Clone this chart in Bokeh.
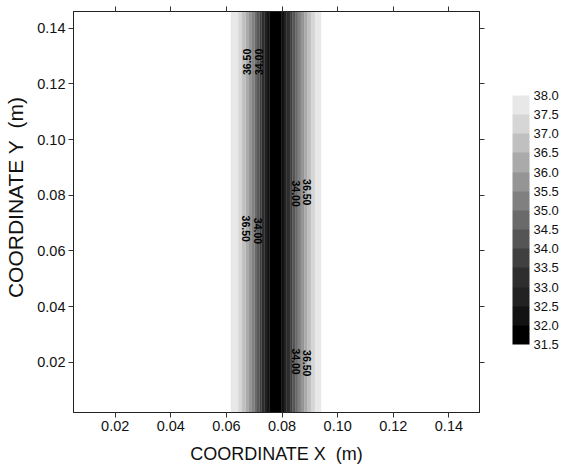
import math
from bokeh.plotting import figure
from bokeh.models import (LinearAxis, ColorBar, LinearColorMapper, FixedTicker,
                          PrintfTickFormatter, Range1d, ColumnDataSource)
from bokeh.core.properties import value
from bokeh.embed import file_html
from bokeh.resources import INLINE

# ---- data ----
levels = [31.5, 32.0, 32.5, 33.0, 33.5, 34.0, 34.5, 35.0, 35.5, 36.0, 36.5, 37.0, 37.5, 38.0]
band_colors = ["#000000", "#121212", "#222222", "#2e2e2e", "#404040", "#555555", "#6a6a6a",
               "#808080", "#959595", "#aaaaaa", "#c0c0c0", "#d6d6d6", "#e8e8e8"]
# x (m) where the field crosses levels 32.0 ... 38.0, left and right of the minimum
left_cross = [0.0756, 0.0746, 0.0736, 0.0727, 0.0719, 0.0710, 0.0701, 0.0692, 0.0681,
              0.0669, 0.0656, 0.0642, 0.0616]
right_cross = [0.0799, 0.0807, 0.0817, 0.0829, 0.0837, 0.0847, 0.0857, 0.0868, 0.0880,
               0.0892, 0.0904, 0.0919, 0.0940]
label_x = [0.0674, 0.0717, 0.0849, 0.0889, 0.0670, 0.0713, 0.0849, 0.0891]
label_y = [0.1279, 0.1279, 0.0806, 0.0811, 0.0680, 0.0672, 0.0203, 0.0197]
label_text = ["36.50", "34.00", "34.00", "36.50", "36.50", "34.00", "34.00", "36.50"]
label_up = [True, True, False, False, False, False, False, False]

x_ticks = [0.02, 0.04, 0.06, 0.08, 0.10, 0.12, 0.14]
y_ticks = [0.02, 0.04, 0.06, 0.08, 0.10, 0.12, 0.14]
x_lim = (0.005, 0.151)
y_lim = (0.002, 0.146)
x_title = "COORDINATE X\u00a0 (m)"
y_title = "\u00a0\u00a0\u00a0\u00a0\u00a0COORDINATE Y\u00a0 (m)"

FONT = "Liberation Sans"

p = figure(width=563, height=468, x_range=Range1d(*x_lim), y_range=Range1d(*y_lim),
           output_backend="svg", toolbar_location=None,
           min_border_left=73, min_border_right=84, min_border_top=11, min_border_bottom=56,
           x_axis_location="below", y_axis_location="left")
p.grid.visible = False
p.outline_line_color = "#222222"
p.background_fill_color = "white"
p.border_fill_color = "white"

# ---- filled contour bands ----
qx0, qx1, qc = [], [], []
qx0.append(left_cross[0]); qx1.append(right_cross[0]); qc.append(band_colors[0])
for k in range(1, len(levels) - 1):
    qx0.append(left_cross[k]); qx1.append(left_cross[k - 1]); qc.append(band_colors[k])
    qx0.append(right_cross[k - 1]); qx1.append(right_cross[k]); qc.append(band_colors[k])
src = ColumnDataSource(dict(left=qx0, right=qx1, color=qc,
                            bottom=[y_lim[0]] * len(qx0), top=[y_lim[1]] * len(qx0)))
p.quad(left="left", right="right", bottom="bottom", top="top", fill_color="color",
       line_color="color", line_width=0.3, source=src)

# ---- contour labels ----
lsrc = ColumnDataSource(dict(x=label_x, y=label_y, text=label_text,
                             angle=[math.pi / 2 if u else -math.pi / 2 for u in label_up]))
p.text(x="x", y="y", text="text", angle="angle", source=lsrc, text_font=value(FONT),
       text_font_size="10.5px", text_font_style="bold", text_align="center",
       text_baseline="middle", text_color="black")

# ---- axes ----
def style_axis(ax, labels=True):
    ax.ticker = FixedTicker(ticks=x_ticks)
    ax.axis_line_color = "#222222"
    ax.axis_line_width = 1
    ax.major_tick_line_color = "#333333"
    ax.major_tick_out = 5
    ax.major_tick_in = 0
    ax.minor_tick_line_color = None
    ax.major_label_text_font = FONT
    ax.major_label_text_color = "#111111"
    ax.axis_label_text_font = FONT
    ax.axis_label_text_font_style = "normal"
    ax.axis_label_text_font_size = "18px"
    ax.axis_label_text_color = "#111111"
    if labels:
        ax.major_label_text_font_size = "14.5px"
        ax.major_label_standoff = 3
    else:
        ax.major_label_text_font_size = "0px"
        ax.major_label_standoff = 0
        ax.major_label_text_alpha = 0

style_axis(p.xaxis[0])
style_axis(p.yaxis[0])
p.yaxis[0].ticker = FixedTicker(ticks=y_ticks)
p.xaxis[0].formatter = PrintfTickFormatter(format="%.2f")
p.yaxis[0].formatter = PrintfTickFormatter(format="%.2f")
p.xaxis[0].axis_label = x_title
p.yaxis[0].axis_label = y_title
p.yaxis[0].axis_label_text_font_size = "21px"
p.xaxis[0].axis_label_standoff = 10
p.yaxis[0].axis_label_standoff = 7

top_ax = LinearAxis()
style_axis(top_ax, labels=False)
p.add_layout(top_ax, "above")
right_ax = LinearAxis()
style_axis(right_ax, labels=False)
right_ax.ticker = FixedTicker(ticks=y_ticks)
p.add_layout(right_ax, "right")

# ---- colour bar ----
mapper = LinearColorMapper(palette=band_colors, low=levels[0], high=levels[-1])
cb = ColorBar(color_mapper=mapper, ticker=FixedTicker(ticks=levels),
              formatter=PrintfTickFormatter(format="%.1f"),
              width=17, height=249, location=(439, 68), padding=0, margin=0,
              major_tick_line_color=None, bar_line_color=None, border_line_color=None,
              background_fill_color=None, label_standoff=4,
              major_label_text_font=FONT, major_label_text_font_size="13px",
              major_label_text_color="#111111")
p.add_layout(cb, "center")

open("out.html", "w").write(file_html(p, INLINE))
